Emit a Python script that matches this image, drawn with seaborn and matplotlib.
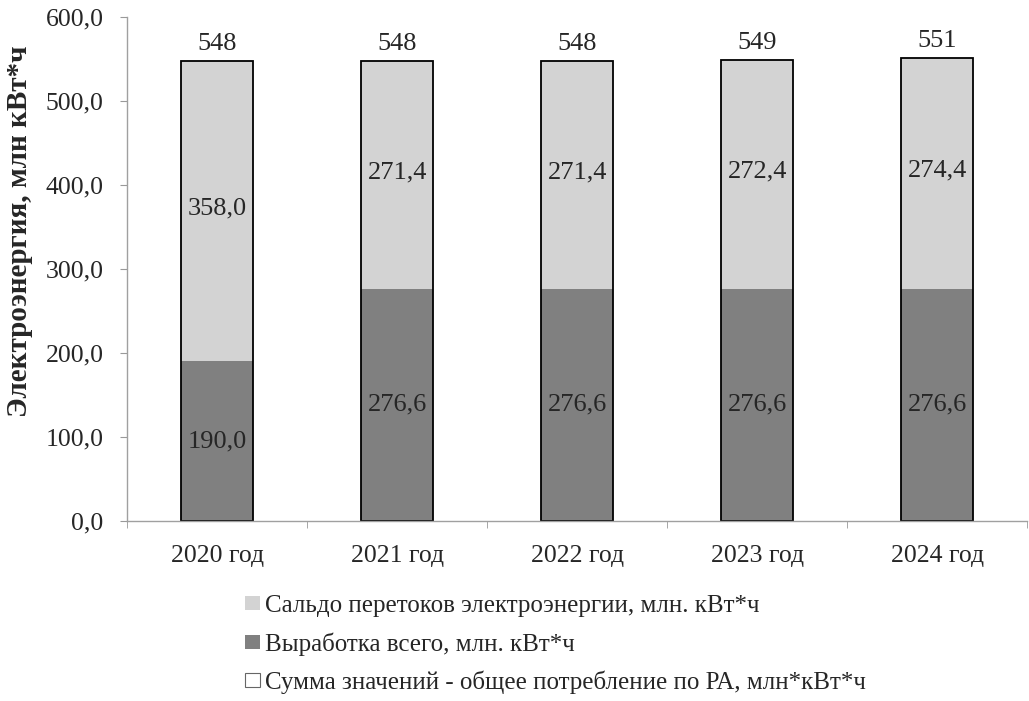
import numpy as np
import pandas as pd
import matplotlib
matplotlib.use("Agg")
import matplotlib.pyplot as plt
import matplotlib.ticker as mticker
from matplotlib.patches import Patch
import seaborn as sns

years = ["2020 год", "2021 год", "2022 год", "2023 год", "2024 год"]
generation = [190.0, 276.6, 276.6, 276.6, 276.6]
saldo = [358.0, 271.4, 271.4, 272.4, 274.4]
totals = [548, 548, 548, 549, 551]

lbl_saldo = "Сальдо перетоков электроэнергии, млн. кВт*ч"
lbl_gen = "Выработка всего, млн. кВт*ч"
lbl_sum = "Сумма значений - общее потребление по РА, млн*кВт*ч"

df = pd.DataFrame({"year": years, "gen": generation, "saldo": saldo, "total": totals})
df["stack"] = df["gen"] + df["saldo"]

sns.set_style("white")
plt.rcParams["font.family"] = ["Liberation Serif", "DejaVu Serif"]

fig = plt.figure(figsize=(10.29, 7.01), dpi=100)
ax = fig.add_axes([0.1235, 0.2568, 0.875, 0.7189])

light = "#d3d3d3"
dark = "#808080"

# saldo drawn as full stack, generation on top of its lower part
sns.barplot(data=df, x="year", y="stack", color=light, width=0.4,
            saturation=1, edgecolor="none", ax=ax)
sns.barplot(data=df, x="year", y="gen", color=dark, width=0.4,
            saturation=1, edgecolor="none", ax=ax)
# sum series: outline only
sns.barplot(data=df, x="year", y="total", fill=False, width=0.4,
            edgecolor="black", linewidth=1.3, ax=ax)

fs = 19
for i in range(len(years)):
    ax.text(i, generation[i] / 2, f"{generation[i]:.1f}".replace(".", ","),
            ha="center", va="center", fontsize=fs)
    ax.text(i, generation[i] + saldo[i] / 2 + 3, f"{saldo[i]:.1f}".replace(".", ","),
            ha="center", va="center", fontsize=fs)
    ax.text(i, totals[i] + 7, str(totals[i]), ha="center", va="bottom", fontsize=fs)

ax.set_ylim(0, 600)
ax.set_xlim(-0.5, 4.5)
ax.yaxis.set_major_locator(mticker.MultipleLocator(100))
ax.yaxis.set_major_formatter(mticker.FuncFormatter(lambda v, p: f"{v:.1f}".replace(".", ",")))
ax.set_xlabel("")
ax.set_ylabel("Электроэнергия, млн кВт*ч", fontsize=21, fontweight="bold", va="center")
ax.yaxis.set_label_coords(-0.119, 0.575)
ax.tick_params(axis="y", labelsize=18.5, length=5, color="#999999", direction="out",
               left=True, pad=12)
ax.tick_params(axis="x", which="major", labelsize=18.5, length=0, pad=17)
ax.xaxis.set_minor_locator(mticker.FixedLocator(np.arange(-0.5, 5, 1)))
ax.tick_params(axis="x", which="minor", length=5, color="#999999", direction="out", bottom=True)

for s in ["top", "right"]:
    ax.spines[s].set_visible(False)
for s in ["left", "bottom"]:
    ax.spines[s].set_color("#a0a0a0")
    ax.spines[s].set_linewidth(1)

handles = [Patch(facecolor=light, edgecolor="none"),
           Patch(facecolor=dark, edgecolor="none"),
           Patch(facecolor="white", edgecolor="#666666", linewidth=0.8)]
fig.legend(handles, [lbl_saldo, lbl_gen, lbl_sum], loc="upper left",
           bbox_to_anchor=(0.226, 0.169), frameon=False, fontsize=18,
           handlelength=0.6, handleheight=0.5, handletextpad=0.2,
           labelspacing=0.6, borderpad=0)

fig.savefig("out.png", dpi=100)
